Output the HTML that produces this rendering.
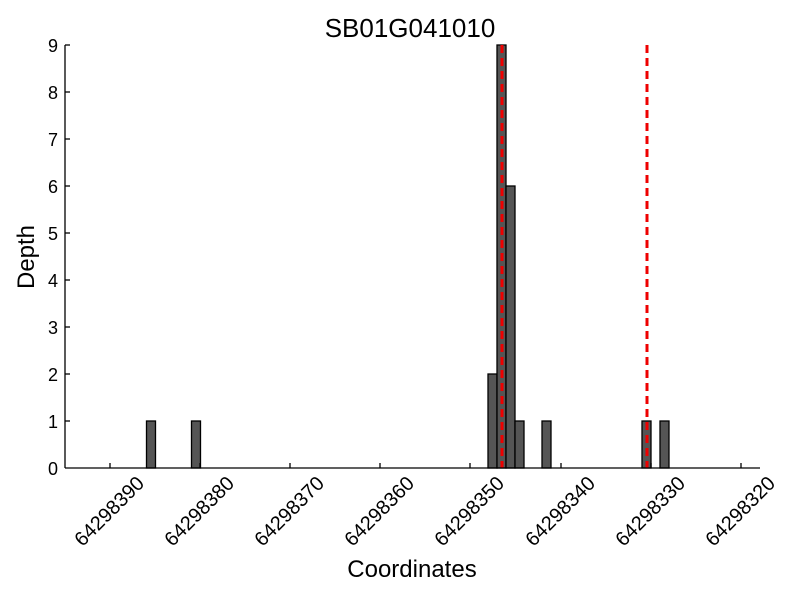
<!DOCTYPE html>
<html><head><style>body{margin:0;background:#fff}</style></head><body>
<svg width="800" height="600" xmlns="http://www.w3.org/2000/svg" font-family="Liberation Sans, DejaVu Sans, sans-serif">
<rect width="800" height="600" fill="#fff"/>
<text x="410" y="37" font-size="26" text-anchor="middle">SB01G041010</text>
<g fill="#555" stroke="#000" stroke-width="1.3">
<rect x="146.5" y="421" width="9" height="47"/>
<rect x="191.5" y="421" width="9" height="47"/>
<rect x="488" y="374" width="9" height="94"/>
<rect x="497" y="45" width="9" height="423"/>
<rect x="506" y="186" width="9" height="282"/>
<rect x="515" y="421" width="9" height="47"/>
<rect x="542" y="421" width="9" height="47"/>
<rect x="642" y="421" width="9" height="47"/>
<rect x="660" y="421" width="9" height="47"/>
</g>
<g stroke="#e00" stroke-width="3" stroke-dasharray="8,5">
<line x1="502" y1="45" x2="502" y2="468"/>
<line x1="647" y1="45" x2="647" y2="468"/>
</g>
<g stroke="#000" stroke-width="1.3">
<line x1="65" y1="45" x2="65" y2="468"/>
<line x1="65" y1="468" x2="760" y2="468"/>
<line x1="110" y1="468" x2="110" y2="463"/><line x1="200" y1="468" x2="200" y2="463"/>
<line x1="290" y1="468" x2="290" y2="463"/><line x1="380" y1="468" x2="380" y2="463"/>
<line x1="470" y1="468" x2="470" y2="463"/><line x1="561" y1="468" x2="561" y2="463"/>
<line x1="651" y1="468" x2="651" y2="463"/><line x1="741" y1="468" x2="741" y2="463"/>
<line x1="65" y1="45" x2="70" y2="45"/><line x1="65" y1="92" x2="70" y2="92"/>
<line x1="65" y1="139" x2="70" y2="139"/><line x1="65" y1="186" x2="70" y2="186"/>
<line x1="65" y1="233" x2="70" y2="233"/><line x1="65" y1="280" x2="70" y2="280"/>
<line x1="65" y1="327" x2="70" y2="327"/><line x1="65" y1="374" x2="70" y2="374"/>
<line x1="65" y1="421" x2="70" y2="421"/>
</g>
<g font-size="18" text-anchor="end">
<text x="58" y="52">9</text><text x="58" y="99">8</text><text x="58" y="146">7</text>
<text x="58" y="193">6</text><text x="58" y="240">5</text><text x="58" y="287">4</text>
<text x="58" y="334">3</text><text x="58" y="381">2</text><text x="58" y="428">1</text>
<text x="58" y="475">0</text>
</g>
<g font-size="20" text-anchor="middle">
<text transform="translate(109,511) rotate(-45)" dy="7">64298390</text>
<text transform="translate(199,511) rotate(-45)" dy="7">64298380</text>
<text transform="translate(289,511) rotate(-45)" dy="7">64298370</text>
<text transform="translate(379,511) rotate(-45)" dy="7">64298360</text>
<text transform="translate(469,511) rotate(-45)" dy="7">64298350</text>
<text transform="translate(560,511) rotate(-45)" dy="7">64298340</text>
<text transform="translate(650,511) rotate(-45)" dy="7">64298330</text>
<text transform="translate(740,511) rotate(-45)" dy="7">64298320</text>
</g>
<text x="412" y="577" font-size="24" text-anchor="middle">Coordinates</text>
<text transform="translate(34,257) rotate(-90)" font-size="24" text-anchor="middle">Depth</text>
</svg>
</body></html>
